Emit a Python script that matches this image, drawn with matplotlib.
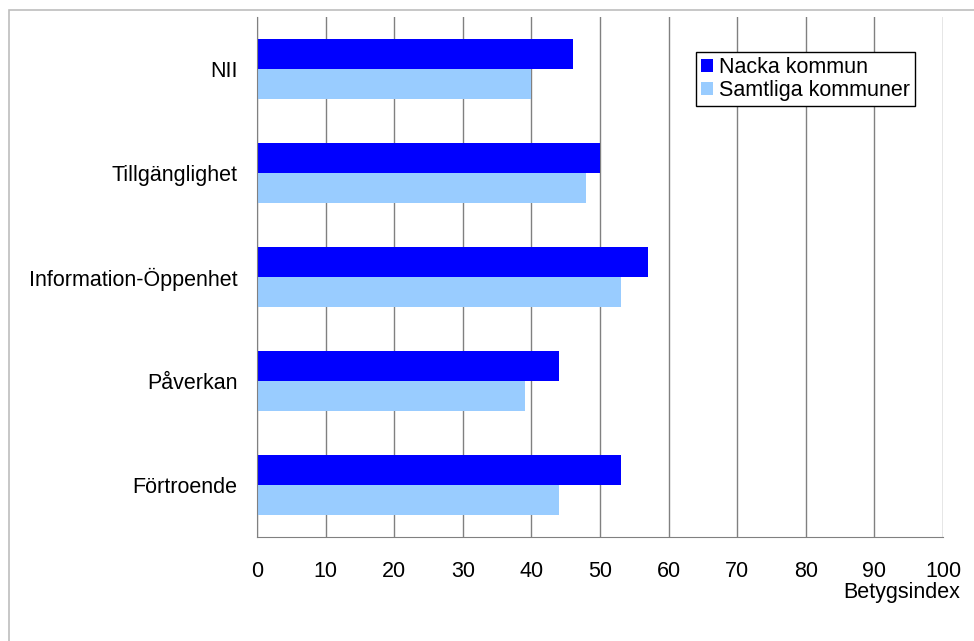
import numpy as np
import matplotlib
matplotlib.use("Agg")
import matplotlib.pyplot as plt
import matplotlib.patches as patches

plt.rcParams['font.family'] = ['Liberation Sans', 'DejaVu Sans']

categories = ["NII", "Tillgänglighet", "Information-Öppenhet", "Påverkan", "Förtroende"]
nacka = [46, 50, 57, 44, 53]
samtliga = [40, 48, 53, 39, 44]
series_names = ["Nacka kommun", "Samtliga kommuner"]
xticks = list(range(0, 101, 10))

W, H = 974, 641
fig = plt.figure(figsize=(W / 100, H / 100), dpi=100)
fig.patch.set_facecolor("white")

# outer gray frame (right/bottom edges fall outside the picture)
frame = patches.Rectangle((8.5 / W, -0.1), 1.2, 1 - 10 / H + 0.1,
                          transform=fig.transFigure, fill=False,
                          edgecolor="#bdbdbd", linewidth=1.2)
fig.patches.append(frame)

ax = fig.add_axes([257 / W, 1 - 537 / H, 686 / W, 520 / H])

y = np.arange(len(categories))[::-1]
h = 0.285
ax.barh(y + h / 2, nacka, height=h, color="#0000FF", label=series_names[0])
ax.barh(y - h / 2, samtliga, height=h, color="#99CCFF", label=series_names[1])

ax.set_xlim(0, 100)
ax.set_ylim(-0.5, 4.5)
ax.set_xticks(xticks)
ax.set_yticks(y)
ax.set_yticklabels(categories)
ax.tick_params(axis="both", length=0, labelsize=15.5)
ax.tick_params(axis="x", pad=17)
ax.tick_params(axis="y", pad=14)

ax.grid(axis="x", color="#808080", linewidth=1)
ax.set_axisbelow(True)
for s in ["top", "right"]:
    ax.spines[s].set_visible(False)
ax.spines["left"].set_color("#808080")
ax.spines["bottom"].set_color("#808080")

fig.text(960 / W, 1 - 598 / H, "Betygsindex", ha="right", va="baseline", fontsize=15.5)

leg = ax.legend(loc="upper left", bbox_to_anchor=(0.640, 0.9327), borderaxespad=0,
                fontsize=15.5, handlelength=0.55, handleheight=0.55, handletextpad=0.3,
                labelspacing=0.12, borderpad=0.22, fancybox=False, framealpha=1)
leg.get_frame().set_edgecolor("black")
leg.get_frame().set_linewidth(1)

fig.savefig("out.png", dpi=100)
